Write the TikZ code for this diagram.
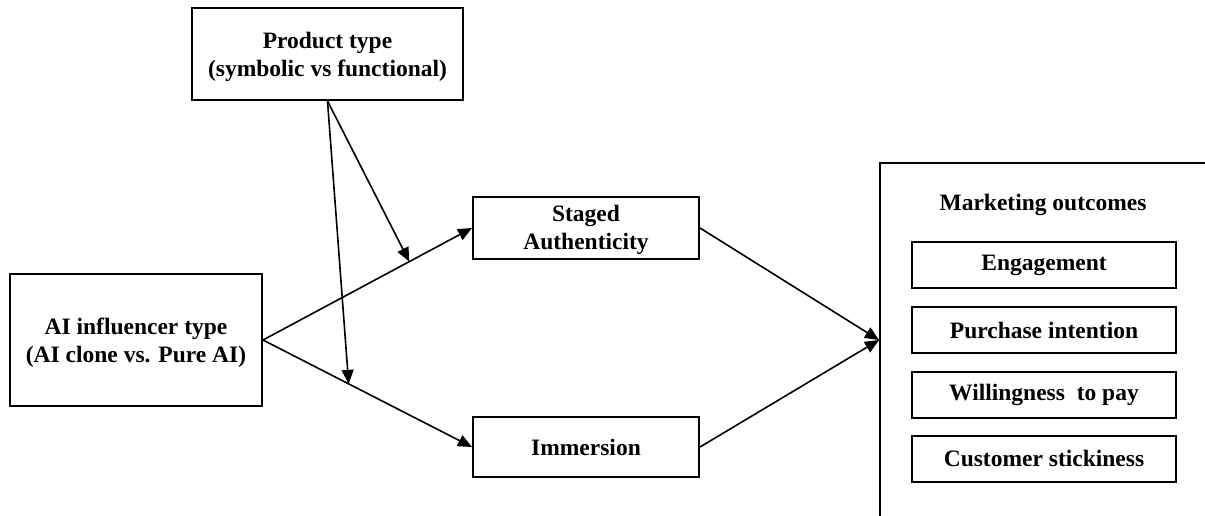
\documentclass[tikz,border=0pt]{standalone}
\usepackage{fontspec}
\setmainfont{Liberation Serif}
\usetikzlibrary{arrows.meta,calc}
\begin{document}
\begin{tikzpicture}[x=1pt,y=-1pt,
  txt/.style={font=\fontsize{23.5}{28}\selectfont\bfseries},
  box/.style={txt,draw,line width=2pt,align=center,inner sep=0pt},
  outbox/.style={box,minimum width=264pt,minimum height=46pt},
  link/.style={line width=1.6pt,-{Triangle[length=14pt,width=12pt]}},
  frame/.style={line width=2pt}
]
\useasboundingbox (0,0) rectangle (1205,515);

% constructs
\node[box,minimum width=271pt,minimum height=92pt] (product) at (327.5,54)
  {\rule{0pt}{22pt}Product type\\(symbolic vs functional)};
\node[box,minimum width=252pt,minimum height=132pt] (ai) at (136,340)
  {\rule{0pt}{21pt}AI influencer type\\(AI clone vs. Pure AI)};
\node[box,minimum width=226pt,minimum height=62pt] (staged) at (586,228)
  {\rule{0pt}{21pt}Staged\\Authenticity};
\node[box,minimum width=226pt,minimum height=60pt] (immersion) at (586,447)
  {Immersion};

% outcome panel (open to the right and bottom)
\draw[frame] (880,520) -- (880,163) -- (1210,163);
\coordinate (outcomes) at (879,340);
\node[txt] (mtitle) at (1043,205) {Marketing outcomes};
\node[outbox] (engage) at (1044,265) {Engagement};
\node[outbox] (purchase) at (1044,330) {Purchase intention};
\node[outbox] (wtp) at (1044,395) {Willingness\ \ to pay};
\node[outbox] (sticky) at (1044,458.5) {Customer stickiness};

% main paths
\draw[link] (ai.east) -- (staged.west);
\draw[link] (ai.east) -- (immersion.west);
\draw[link] (staged.east) -- (outcomes);
\draw[link] (immersion.east) -- (outcomes);

% moderation
\coordinate (m1) at ($(ai.east)!0.7!(staged.west)$);
\coordinate (m2) at ($(ai.east)!0.41!(immersion.west)$);
\draw[link] (product.south) -- (m1);
\draw[link] (product.south) -- (m2);
\end{tikzpicture}
\end{document}
